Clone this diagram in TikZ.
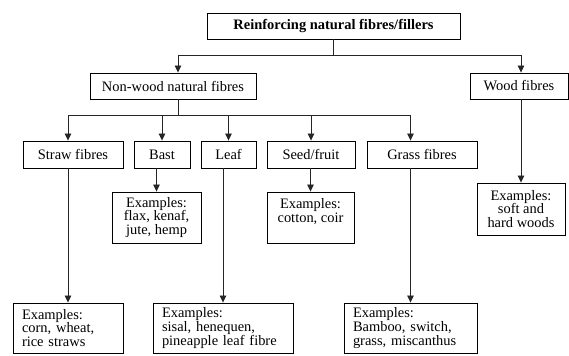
\documentclass[tikz,border=0pt]{standalone}
\usepackage{fontspec}
\setmainfont{Liberation Serif}
\usetikzlibrary{arrows.meta,shadows}
\begin{document}
\begin{tikzpicture}[x=1bp,y=-1bp,
  box/.style={draw=black, line width=0.9bp, fill=white, inner sep=0pt,
    align=center, font=\fontsize{14.5}{14}\selectfont,
    drop shadow={shadow xshift=0.9bp, shadow yshift=-0.9bp, opacity=1, fill=black!80}},
  lbox/.style={box, align=left, inner xsep=9bp},
  conn/.style={draw=black!85, line width=0.8bp},
  arr/.style={conn, -{Triangle[width=6.5bp,length=7bp]}}]
\useasboundingbox (0,0) rectangle (569,355);

% level 0/1
\node[box, minimum width=253bp, minimum height=26bp] (top) at (333.5,26) {\textbf{Reinforcing natural fibres/fillers}};
\node[box, minimum width=166bp, minimum height=26bp] (nonwood) at (173,86) {Non-wood natural fibres};
\node[box, minimum width=98bp, minimum height=26bp] (wood) at (519,86) {Wood fibres};

% level 2
\node[box, minimum width=100bp, minimum height=27bp] (straw) at (73,154.5) {Straw fibres};
\node[box, minimum width=56bp, minimum height=27bp] (bast) at (162,154.5) {Bast};
\node[box, minimum width=55bp, minimum height=27bp] (leaf) at (228.5,154.5) {Leaf};
\node[box, minimum width=88bp, minimum height=27bp] (seed) at (311,154.5) {Seed/fruit};
\node[box, minimum width=110bp, minimum height=27bp] (grass) at (422,154.5) {Grass fibres};

% examples
\node[box, minimum width=89bp, minimum height=51bp] (bastex) at (156.5,217.5) {Examples:\\flax, kenaf,\\jute, hemp};
\node[box, minimum width=87bp, minimum height=51bp] (seedex) at (310.5,217.5) {Examples:\\cotton, coir\\\mbox{}};
\node[box, minimum width=88bp, minimum height=52bp] (woodex) at (521,209) {Examples:\\soft and\\hard woods};
\node[lbox, text width=92bp, minimum height=50bp] (strawex) at (68,328) {Examples:\\corn, wheat,\\rice straws};
\node[lbox, text width=122bp, minimum height=50bp] (leafex) at (223,328) {Examples:\\sisal, henequen,\\pineapple leaf fibre};
\node[lbox, text width=115bp, minimum height=50bp] (grassex) at (410.5,328) {Examples:\\Bamboo, switch,\\grass, miscanthus};

% junction coordinates
\coordinate (h1) at (178,55);
\coordinate (h2) at (0,55);
\coordinate (r0) at (0,115);

% top level connectors
\draw[conn] (top.south) -- (top.south |- h2);
\draw[conn] (h1) -- (woodex.north |- h2);
\draw[arr] (h1) -- (h1 |- nonwood.north);
\draw[arr] (woodex.north |- h2) -- (woodex.north |- wood.north);

% non-wood connectors
\draw[conn] (h1 |- nonwood.south) -- (h1 |- r0);
\draw[conn] (strawex.north |- r0) -- (grassex.north |- r0);
\draw[arr] (strawex.north |- r0) -- (strawex.north |- straw.north);
\draw[arr] (bast.north |- r0) -- (bast.north);
\draw[arr] (leaf.north |- r0) -- (leaf.north);
\draw[arr] (seed.north |- r0) -- (seed.north);
\draw[arr] (grassex.north |- r0) -- (grassex.north |- grass.north);

% down to examples
\draw[arr] (strawex.north |- straw.south) -- (strawex.north);
\draw[arr] (bastex.north |- bast.south) -- (bastex.north);
\draw[arr] (leafex.north |- leaf.south) -- (leafex.north);
\draw[arr] (seedex.north |- seed.south) -- (seedex.north);
\draw[arr] (grassex.north |- grass.south) -- (grassex.north);
\draw[arr] (woodex.north |- wood.south) -- (woodex.north);
\end{tikzpicture}
\end{document}
